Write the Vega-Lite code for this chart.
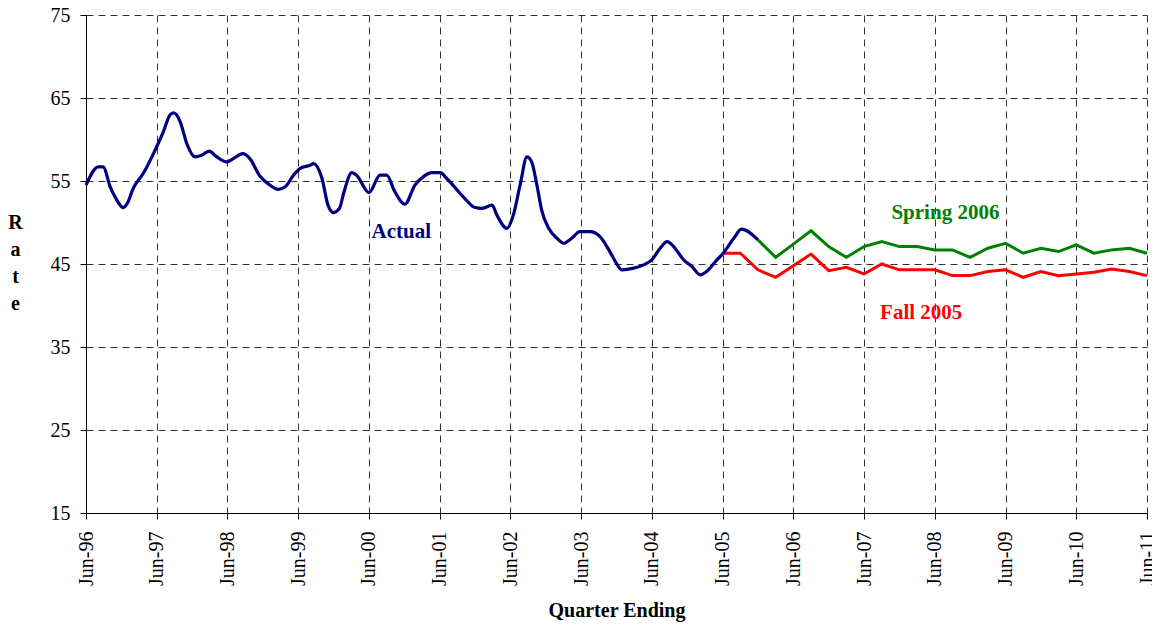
{
  "$schema": "https://vega.github.io/schema/vega-lite/v6.json",
  "width": 1061,
  "height": 498,
  "autosize": {"type": "none"},
  "padding": {"left": 86, "top": 15, "right": 5, "bottom": 112},
  "background": "white",
  "config": {"view": {"stroke": null}, "font": "Liberation Serif"},
  "datasets": {
    "actual": [
      {"m": 0, "v": 54.5, "s": "Actual"}, {"m": 2.1, "v": 56.7, "s": "Actual"}, {"m": 2.9, "v": 56.7, "s": "Actual"},
      {"m": 4.1, "v": 54.3, "s": "Actual"}, {"m": 5.0, "v": 53.0, "s": "Actual"}, {"m": 6.3, "v": 51.8, "s": "Actual"},
      {"m": 7.0, "v": 52.3, "s": "Actual"}, {"m": 8.0, "v": 54.1, "s": "Actual"}, {"m": 9.7, "v": 55.9, "s": "Actual"},
      {"m": 12.1, "v": 59.3, "s": "Actual"}, {"m": 13.1, "v": 60.9, "s": "Actual"}, {"m": 14.3, "v": 63.0, "s": "Actual"},
      {"m": 14.9, "v": 63.2, "s": "Actual"}, {"m": 16.0, "v": 62.1, "s": "Actual"}, {"m": 17.1, "v": 59.5, "s": "Actual"},
      {"m": 18.5, "v": 57.9, "s": "Actual"}, {"m": 19.6, "v": 58.1, "s": "Actual"}, {"m": 20.9, "v": 58.6, "s": "Actual"},
      {"m": 22.2, "v": 57.9, "s": "Actual"}, {"m": 23.9, "v": 57.3, "s": "Actual"}, {"m": 25.0, "v": 57.7, "s": "Actual"},
      {"m": 26.6, "v": 58.3, "s": "Actual"}, {"m": 27.8, "v": 57.7, "s": "Actual"}, {"m": 29.5, "v": 55.6, "s": "Actual"},
      {"m": 31.2, "v": 54.5, "s": "Actual"}, {"m": 32.6, "v": 54.0, "s": "Actual"}, {"m": 33.8, "v": 54.3, "s": "Actual"},
      {"m": 35.2, "v": 55.7, "s": "Actual"}, {"m": 36.3, "v": 56.5, "s": "Actual"}, {"m": 38.0, "v": 56.9, "s": "Actual"},
      {"m": 38.6, "v": 57.1, "s": "Actual"}, {"m": 40.0, "v": 55.4, "s": "Actual"}, {"m": 41.1, "v": 52.0, "s": "Actual"},
      {"m": 42.0, "v": 51.2, "s": "Actual"}, {"m": 43.0, "v": 51.7, "s": "Actual"}, {"m": 43.7, "v": 53.5, "s": "Actual"},
      {"m": 45.1, "v": 56.0, "s": "Actual"}, {"m": 45.9, "v": 55.7, "s": "Actual"}, {"m": 48.0, "v": 53.6, "s": "Actual"},
      {"m": 49.9, "v": 55.7, "s": "Actual"}, {"m": 51.0, "v": 55.7, "s": "Actual"}, {"m": 52.4, "v": 53.7, "s": "Actual"},
      {"m": 54.1, "v": 52.2, "s": "Actual"}, {"m": 55.8, "v": 54.5, "s": "Actual"}, {"m": 57.2, "v": 55.5, "s": "Actual"},
      {"m": 58.7, "v": 56.0, "s": "Actual"}, {"m": 60.1, "v": 56.0, "s": "Actual"}, {"m": 61.2, "v": 55.3, "s": "Actual"},
      {"m": 64.0, "v": 53.1, "s": "Actual"}, {"m": 66.0, "v": 51.8, "s": "Actual"}, {"m": 67.2, "v": 51.7, "s": "Actual"},
      {"m": 68.9, "v": 52.1, "s": "Actual"}, {"m": 69.7, "v": 50.9, "s": "Actual"}, {"m": 71.4, "v": 49.3, "s": "Actual"},
      {"m": 72.5, "v": 50.9, "s": "Actual"}, {"m": 73.7, "v": 54.7, "s": "Actual"}, {"m": 74.8, "v": 57.9, "s": "Actual"},
      {"m": 75.6, "v": 57.3, "s": "Actual"}, {"m": 76.5, "v": 54.5, "s": "Actual"}, {"m": 77.3, "v": 51.5, "s": "Actual"},
      {"m": 78.5, "v": 49.3, "s": "Actual"}, {"m": 79.9, "v": 48.1, "s": "Actual"}, {"m": 81.0, "v": 47.5, "s": "Actual"},
      {"m": 82.4, "v": 48.1, "s": "Actual"}, {"m": 83.8, "v": 48.9, "s": "Actual"}, {"m": 85.5, "v": 48.9, "s": "Actual"},
      {"m": 87.2, "v": 48.3, "s": "Actual"}, {"m": 88.7, "v": 46.7, "s": "Actual"}, {"m": 89.8, "v": 45.3, "s": "Actual"},
      {"m": 90.9, "v": 44.3, "s": "Actual"}, {"m": 92.9, "v": 44.5, "s": "Actual"}, {"m": 94.6, "v": 44.9, "s": "Actual"},
      {"m": 96.0, "v": 45.5, "s": "Actual"}, {"m": 97.4, "v": 46.9, "s": "Actual"}, {"m": 98.6, "v": 47.7, "s": "Actual"},
      {"m": 99.7, "v": 47.1, "s": "Actual"}, {"m": 101.4, "v": 45.5, "s": "Actual"}, {"m": 102.8, "v": 44.7, "s": "Actual"},
      {"m": 104.2, "v": 43.7, "s": "Actual"}, {"m": 105.3, "v": 44.1, "s": "Actual"}, {"m": 106.8, "v": 45.3, "s": "Actual"},
      {"m": 108.1, "v": 46.3, "s": "Actual"}, {"m": 109.9, "v": 48.1, "s": "Actual"}, {"m": 111.2, "v": 49.2, "s": "Actual"},
      {"m": 114, "v": 47.9, "s": "Actual"}
    ],
    "forecast": [
      {"m": 114, "v": 47.9, "s": "Spring 2006"}, {"m": 117, "v": 45.8, "s": "Spring 2006"}, {"m": 120, "v": 47.4, "s": "Spring 2006"},
      {"m": 123, "v": 49.0, "s": "Spring 2006"}, {"m": 126, "v": 47.1, "s": "Spring 2006"}, {"m": 129, "v": 45.8, "s": "Spring 2006"},
      {"m": 132, "v": 47.1, "s": "Spring 2006"}, {"m": 135, "v": 47.7, "s": "Spring 2006"}, {"m": 138, "v": 47.1, "s": "Spring 2006"},
      {"m": 141, "v": 47.1, "s": "Spring 2006"}, {"m": 144, "v": 46.7, "s": "Spring 2006"}, {"m": 147, "v": 46.7, "s": "Spring 2006"},
      {"m": 150, "v": 45.8, "s": "Spring 2006"}, {"m": 153, "v": 46.9, "s": "Spring 2006"}, {"m": 156, "v": 47.5, "s": "Spring 2006"},
      {"m": 159, "v": 46.3, "s": "Spring 2006"}, {"m": 162, "v": 46.9, "s": "Spring 2006"}, {"m": 165, "v": 46.5, "s": "Spring 2006"},
      {"m": 168, "v": 47.3, "s": "Spring 2006"}, {"m": 171, "v": 46.3, "s": "Spring 2006"}, {"m": 174, "v": 46.7, "s": "Spring 2006"},
      {"m": 177, "v": 46.9, "s": "Spring 2006"}, {"m": 180, "v": 46.3, "s": "Spring 2006"},
      {"m": 108, "v": 46.3, "s": "Fall 2005"}, {"m": 111, "v": 46.3, "s": "Fall 2005"}, {"m": 114, "v": 44.3, "s": "Fall 2005"},
      {"m": 117, "v": 43.4, "s": "Fall 2005"}, {"m": 120, "v": 44.8, "s": "Fall 2005"}, {"m": 123, "v": 46.2, "s": "Fall 2005"},
      {"m": 126, "v": 44.2, "s": "Fall 2005"}, {"m": 129, "v": 44.6, "s": "Fall 2005"}, {"m": 132, "v": 43.8, "s": "Fall 2005"},
      {"m": 135, "v": 45.0, "s": "Fall 2005"}, {"m": 138, "v": 44.3, "s": "Fall 2005"}, {"m": 141, "v": 44.3, "s": "Fall 2005"},
      {"m": 144, "v": 44.3, "s": "Fall 2005"}, {"m": 147, "v": 43.6, "s": "Fall 2005"}, {"m": 150, "v": 43.6, "s": "Fall 2005"},
      {"m": 153, "v": 44.1, "s": "Fall 2005"}, {"m": 156, "v": 44.3, "s": "Fall 2005"}, {"m": 159, "v": 43.4, "s": "Fall 2005"},
      {"m": 162, "v": 44.1, "s": "Fall 2005"}, {"m": 165, "v": 43.6, "s": "Fall 2005"}, {"m": 168, "v": 43.8, "s": "Fall 2005"},
      {"m": 171, "v": 44.0, "s": "Fall 2005"}, {"m": 174, "v": 44.4, "s": "Fall 2005"}, {"m": 177, "v": 44.1, "s": "Fall 2005"},
      {"m": 180, "v": 43.6, "s": "Fall 2005"}
    ],
    "labels": [
      {"m": 53.5, "v": 48.9, "s": "Actual"},
      {"m": 145.8, "v": 51.1, "s": "Spring 2006"},
      {"m": 141.7, "v": 39.1, "s": "Fall 2005"}
    ]
  },
  "encoding": {
    "x": {
      "field": "m",
      "type": "quantitative",
      "scale": {"domain": [0, 180], "nice": false, "zero": false},
      "axis": {
        "values": [0, 12, 24, 36, 48, 60, 72, 84, 96, 108, 120, 132, 144, 156, 168, 180],
        "labelExpr": "'Jun-' + (datum.value < 48 ? '' + (96 + datum.value / 12) : (datum.value < 168 ? '0' : '') + (datum.value / 12 - 4))",
        "labelAngle": -90,
        "labelFontSize": 20,
        "labelColor": "black",
        "labelPadding": 12,
        "labelFont": "Liberation Serif",
        "tickSize": 6,
        "tickColor": "black",
        "domainColor": "black",
        "grid": true,
        "gridDash": [7, 5],
        "gridColor": "#333333",
        "gridWidth": 1,
        "gridOpacity": 1,
        "title": "Quarter Ending",
        "titleFontSize": 20,
        "titleFontWeight": "bold",
        "titleColor": "black",
        "titleFont": "Liberation Serif",
        "titlePadding": 15
      }
    },
    "y": {
      "field": "v",
      "type": "quantitative",
      "scale": {"domain": [15, 75], "nice": false, "zero": false},
      "axis": {
        "values": [15, 25, 35, 45, 55, 65, 75],
        "labelFontSize": 20,
        "labelColor": "black",
        "labelPadding": 10,
        "labelFont": "Liberation Serif",
        "tickSize": 6,
        "tickColor": "black",
        "domainColor": "black",
        "grid": true,
        "gridDash": [7, 5],
        "gridColor": "#333333",
        "gridWidth": 1,
        "gridOpacity": 1,
        "title": ["R", "a", "t", "e"],
        "titleAngle": 0,
        "titleFontSize": 20,
        "titleFontWeight": "bold",
        "titleColor": "black",
        "titleFont": "Liberation Serif",
        "titleLineHeight": 27,
        "titleAlign": "center",
        "titleBaseline": "alphabetic",
        "titleX": -71,
        "titleY": 213
      }
    },
    "color": {
      "field": "s",
      "type": "nominal",
      "scale": {"domain": ["Actual", "Spring 2006", "Fall 2005"], "range": ["#000080", "#008000", "#FF0000"]},
      "legend": null
    }
  },
  "layer": [
    {
      "data": {"name": "forecast"},
      "mark": {"type": "line", "strokeWidth": 3, "interpolate": "linear"},
      "encoding": {"detail": {"field": "s"}}
    },
    {
      "data": {"name": "actual"},
      "mark": {"type": "line", "strokeWidth": 3.2, "interpolate": "monotone"},
      "encoding": {}
    },
    {
      "data": {"name": "labels"},
      "mark": {"type": "text", "fontSize": 21, "fontWeight": "bold", "font": "Liberation Serif", "align": "center", "baseline": "middle"},
      "encoding": {"text": {"field": "s"}}
    }
  ]
}
